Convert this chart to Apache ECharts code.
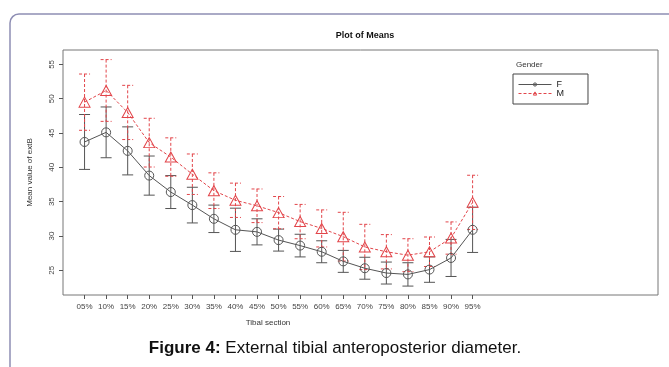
<!DOCTYPE html>
<html>
<head>
<meta charset="utf-8">
<script src="https://cdn.jsdelivr.net/npm/echarts@6/dist/echarts.min.js"></script>
<style>
	html, body { margin: 0; padding: 0; background: #fff; }
	#chart { width: 669px; height: 367px; }
</style>
</head>
<body>
<div id="chart"></div>
<script>
// 截面
var categories = ["05%", "10%", "15%", "20%", "25%", "30%", "35%", "40%", "45%", "50%",
	"55%", "60%", "65%", "70%", "75%", "80%", "85%", "90%", "95%"];

// 均值与标准差
var fMean = [43.7, 45.1, 42.4, 38.8, 36.4, 34.5, 32.5, 30.9, 30.6, 29.4, 28.6, 27.7, 26.3, 25.3, 24.6, 24.4, 25.1, 26.8, 30.9];
var fSd = [4.0, 3.7, 3.5, 2.85, 2.4, 2.6, 2.0, 3.15, 1.9, 1.6, 1.65, 1.6, 1.6, 1.6, 1.6, 1.7, 1.85, 2.7, 3.3];
var mMean = [49.5, 51.2, 48.0, 43.6, 41.5, 39.0, 36.6, 35.2, 34.4, 33.4, 32.1, 31.1, 29.9, 28.4, 27.7, 27.2, 27.7, 29.7, 34.9];
var mSd = [4.1, 4.5, 3.95, 3.55, 2.8, 2.95, 2.6, 2.5, 2.45, 2.35, 2.5, 2.7, 3.55, 3.3, 2.5, 2.4, 2.15, 2.35, 3.95];

var yTicks = [25, 30, 35, 40, 45, 50, 55];

var fColor = "#555555";
var mColor = "#e2454a";
var font = "Liberation Sans, Arial, sans-serif";

var xTicks = categories.map(function (_, i) {
	return i + 1;
});

function pointsOf(means) {
	return means.map(function (v, i) {
		return [i + 1, v];
	});
}

function barsOf(means, sds) {
	return means.map(function (v, i) {
		return [i + 1, v, sds[i]];
	});
}

function errorBar(color, dash) {
	return function (params, api) {
		var x = api.value(0);
		var mean = api.value(1);
		var sd = api.value(2);
		var top = api.coord([x, mean + sd]);
		var bottom = api.coord([x, mean - sd]);
		var half = 5.5;
		var style = {
			stroke: color,
			lineWidth: 1,
			lineDash: dash
		};
		return {
			type: "group",
			children: [
				{ type: "line", shape: { x1: top[0], y1: top[1], x2: bottom[0], y2: bottom[1] }, style: style },
				{ type: "line", shape: { x1: top[0] - half, y1: top[1], x2: top[0] + half, y2: top[1] }, style: style },
				{ type: "line", shape: { x1: bottom[0] - half, y1: bottom[1], x2: bottom[0] + half, y2: bottom[1] }, style: style }
			]
		};
	};
}

var chart = echarts.init(document.getElementById("chart"));

var option = {
	animation: false,
	backgroundColor: "#fff",
	textStyle: {
		fontFamily: font
	},
	title: {
		text: "Plot of Means",
		left: 360,
		top: 26,
		textAlign: "center",
		textStyle: {
			fontSize: 9,
			fontWeight: "bold",
			color: "#111"
		}
	},
	legend: {
		data: ["F", "M"],
		orient: "vertical",
		left: 513,
		top: 74,
		itemWidth: 33,
		itemHeight: 4,
		itemGap: 0,
		padding: [6, 24, 6, 5],
		borderColor: "#444",
		borderWidth: 1,
		itemStyle: {
			color: "rgba(0,0,0,0)",
			borderWidth: 1
		},
		lineStyle: {
			width: 1
		},
		textStyle: {
			fontSize: 9,
			lineHeight: 9,
			color: "#222"
		}
	},
	grid: {
		left: 63,
		right: 11,
		top: 50,
		bottom: 72,
		show: true,
		borderColor: "#777",
		borderWidth: 1
	},
	xAxis: {
		type: "value",
		min: 0,
		max: 27.6,
		axisLine: { show: false },
		splitLine: { show: false },
		axisTick: {
			customValues: xTicks,
			length: 4,
			lineStyle: { color: "#555" }
		},
		axisLabel: {
			customValues: xTicks,
			margin: 8,
			fontSize: 8,
			color: "#444",
			formatter: function (v) {
				return categories[Math.round(v) - 1];
			}
		}
	},
	yAxis: {
		type: "value",
		min: 21.4,
		max: 57.1,
		name: "Mean value of extB",
		nameLocation: "middle",
		nameGap: 29,
		nameTextStyle: {
			fontSize: 8,
			color: "#333"
		},
		axisLine: { show: false },
		splitLine: { show: false },
		axisTick: {
			customValues: yTicks,
			length: 4,
			lineStyle: { color: "#555" }
		},
		axisLabel: {
			customValues: yTicks,
			rotate: 90,
			margin: 7,
			fontSize: 8,
			color: "#444"
		}
	},
	graphic: [
		{
			type: "rect",
			shape: { x: 10, y: 14, width: 720, height: 420, r: 9 },
			style: { fill: "none", stroke: "#8e8eb4", lineWidth: 1.5 },
			z: -1
		},
		{
			type: "text",
			left: 516,
			top: 61,
			style: { text: "Gender", fontSize: 8, fill: "#333", fontFamily: font }
		},
		{
			type: "text",
			x: 268,
			y: 319,
			style: { text: "Tibal section", fontSize: 8, fill: "#333", align: "center", fontFamily: font }
		},
		{
			type: "text",
			x: 335,
			y: 340,
			style: {
				text: "{b|Figure 4:} External tibial anteroposterior diameter.",
				align: "center",
				fontSize: 17,
				fill: "#111",
				fontFamily: font,
				rich: {
					b: { fontSize: 17, fontWeight: "bold", fill: "#111", fontFamily: font }
				}
			}
		}
	],
	series: [
		{
			name: "F",
			type: "line",
			data: pointsOf(fMean),
			symbol: "circle",
			symbolSize: 9,
			z: 3,
			lineStyle: { color: fColor, width: 1 },
			itemStyle: { color: "rgba(0,0,0,0)", borderColor: fColor, borderWidth: 1 }
		},
		{
			name: "M",
			type: "line",
			data: pointsOf(mMean),
			symbol: "triangle",
			symbolSize: [11, 10],
			z: 3,
			lineStyle: { color: mColor, width: 1, type: [3, 2] },
			itemStyle: { color: "rgba(0,0,0,0)", borderColor: mColor, borderWidth: 1 }
		},
		{
			name: "F sd",
			type: "custom",
			data: barsOf(fMean, fSd),
			renderItem: errorBar(fColor, null),
			z: 2
		},
		{
			name: "M sd",
			type: "custom",
			data: barsOf(mMean, mSd),
			renderItem: errorBar(mColor, [3, 2]),
			z: 2
		}
	]
};

chart.setOption(option);
</script>
</body>
</html>
